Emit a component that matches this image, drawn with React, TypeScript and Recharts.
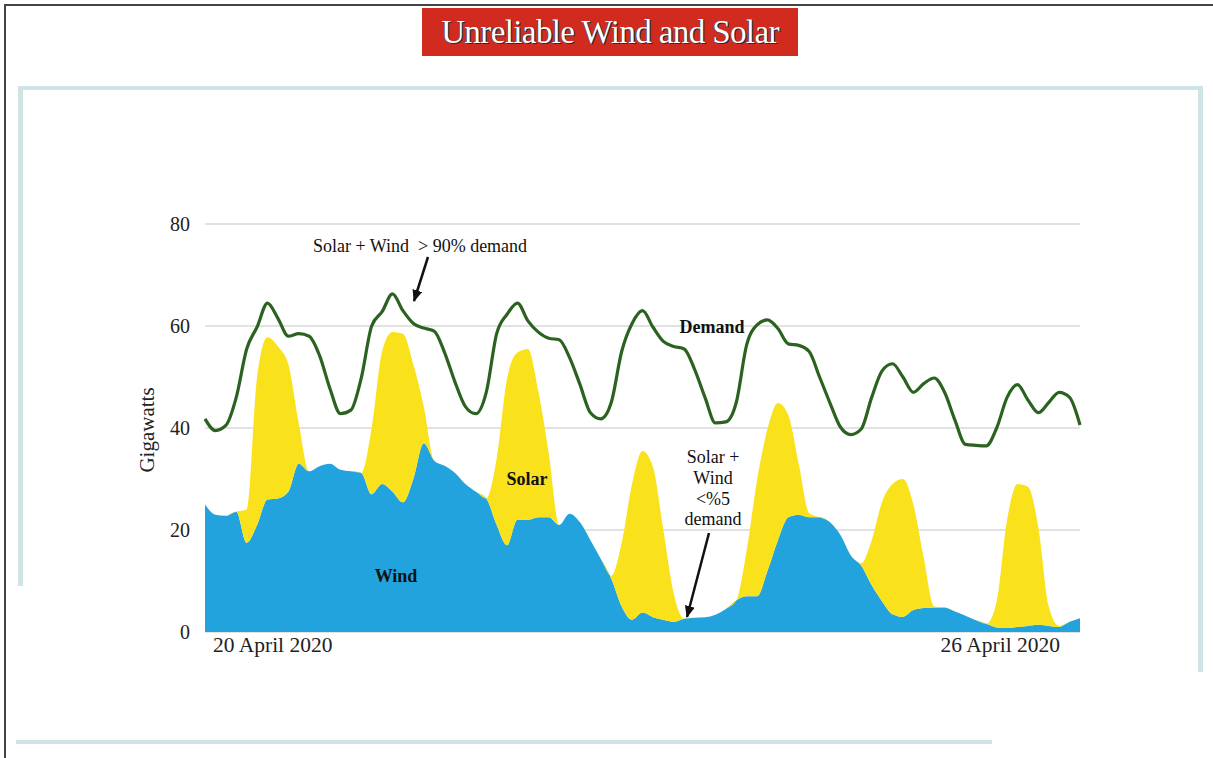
import React from "react";
import { ComposedChart, Area, Line, XAxis, YAxis, CartesianGrid } from "recharts";

// hours since 00:00 on 20 April 2020, two-hourly
const HOURS = [
  0, 2, 4, 6, 8, 10, 12, 14, 16, 18, 20, 22, 24, 26, 28, 30, 32, 34, 36, 38,
  40, 42, 44, 46, 48, 50, 52, 54, 56, 58, 60, 62, 64, 66, 68, 70, 72, 74, 76, 78,
  80, 82, 84, 86, 88, 90, 92, 94, 96, 98, 100, 102, 104, 106, 108, 110, 112, 114, 116, 118,
  120, 122, 124, 126, 128, 130, 132, 134, 136, 138, 140, 142, 144, 146, 148, 150, 152, 154, 156, 158,
  160, 162, 164, 166, 168,
];

// GW
const WIND = [
  25, 23, 22.8, 23.6, 17.5, 21, 26, 26.2, 27.5, 33,
  31.5, 32.5, 33, 31.8, 31.5, 31.2, 27, 29, 27.5, 25.4,
  30, 37, 33.6, 32.6, 31.2, 29, 27.5, 26.2, 21, 17,
  22, 22, 22.5, 22.5, 21, 23.2, 21.5, 18, 14.3, 10.5,
  5, 2.4, 3.8, 2.9, 2.4, 2, 2.6, 2.8, 2.9, 3.4,
  4.5, 6.2, 7, 7, 12, 18, 22.5, 23, 22.5, 22.5,
  21.5, 19, 15, 13, 9.2, 6, 3.5, 3, 4.3, 4.7,
  4.8, 4.8, 4, 3.2, 2.3, 1.6, 0.9, 0.8, 1, 1.2,
  1.4, 1.2, 1, 2, 2.7,
];

const SOLAR = [
  0, 0, 0, 0, 6.5, 29, 31.8, 29.8, 25, 8,
  0, 0, 0, 0, 0, 0, 13, 26, 31.3, 33.1,
  22.5, 7.2, 0, 0, 0, 0, 0, 0, 13, 32.7,
  32.8, 33.5, 24.7, 12.5, 0, 0, 0, 0, 0, 0.5,
  12.5, 26.6, 31.7, 29.5, 17.6, 5.5, 0, 0, 0, 0,
  0, 0, 9, 22.8, 27.8, 26.9, 20, 10, 0.8, 0,
  0, 0, 0, 0.5, 8.8, 19.5, 25.5, 27, 20.7, 9.8,
  0.2, 0, 0, 0, 0, 0, 5.1, 21.2, 28, 27.3,
  19.1, 3.8, 0.2, 0, 0,
];

const DEMAND = [
  41.8, 39.5, 40.5, 46, 55.5, 59.8, 64.5, 61.5, 58, 58.5,
  58, 54.2, 47.7, 42.8, 43.5, 49.8, 60, 62.8, 66.3, 63,
  60.5, 59.6, 59, 54.8, 49, 44.2, 42.8, 47, 58.5, 62.3,
  64.5, 61, 58.8, 57.6, 57.3, 53.8, 48.5, 43, 41.8, 45,
  55, 60.5, 63, 59.8, 57, 56, 55.5, 51.5, 46, 41,
  41.2, 45, 56.3, 60.2, 61.2, 59.5, 56.5, 56.2, 55, 50,
  44.9, 40.2, 38.7, 39.8, 46, 51.2, 52.6, 50, 47, 48.7,
  49.8, 47, 41.5, 36.8, 36.6, 36.5, 40, 46, 48.5, 45.5,
  43, 45, 47, 46, 40.6,
];

const Y_TICKS = [0, 20, 40, 60, 80];
const X_TICKS = [0, 168];
const X_LABELS = ["20 April 2020", "26 April 2020"];

const SERIF = "'Liberation Serif', 'Times New Roman', serif";

const data = HOURS.map((h, i) => ({
  hour: h,
  wind: WIND[i],
  solar: SOLAR[i],
  demand: DEMAND[i],
}));

const DateTick = ({ x, y, payload }: { x?: number; y?: number; payload?: { value: number } }) => {
  const first = payload?.value === X_TICKS[0];
  return (
    <text
      x={first ? (x ?? 0) + 8 : (x ?? 0) - 20}
      y={(y ?? 0) + 12}
      textAnchor={first ? "start" : "end"}
      fontFamily={SERIF}
      fontSize={21.5}
      fill="#222"
    >
      {first ? X_LABELS[0] : X_LABELS[1]}
    </text>
  );
};

const frame = "#cfe5e5";

export default function App() {
  return (
    <div style={{ position: "absolute", left: 0, top: 0, width: 1213, height: 758, background: "#fff", overflow: "hidden" }}>
      {/* outer border (top + left) */}
      <div style={{ position: "absolute", left: 4, top: 4, width: 1209, height: 754, borderTop: "2px solid #444", borderLeft: "2px solid #444" }} />
      {/* light blue frame pieces */}
      <div style={{ position: "absolute", left: 18, top: 86, width: 1184, height: 4, background: frame }} />
      <div style={{ position: "absolute", left: 18, top: 86, width: 5, height: 500, background: frame }} />
      <div style={{ position: "absolute", left: 1198, top: 86, width: 5, height: 586, background: frame }} />
      <div style={{ position: "absolute", left: 16, top: 740, width: 976, height: 4, background: frame }} />

      {/* title */}
      <div
        style={{
          position: "absolute",
          left: 422,
          top: 8,
          width: 376,
          height: 48,
          background: "#d12a1f",
          color: "#fff",
          fontFamily: SERIF,
          fontSize: 33,
          lineHeight: "48px",
          textAlign: "center",
          letterSpacing: -0.6,
          textShadow: "1px 1px 0 #2b2b3a, -1px 0 0 #5a3a3a",
        }}
      >
        Unreliable Wind and Solar
      </div>

      <div style={{ position: "absolute", left: 0, top: 0 }}>
        <ComposedChart
          width={1213}
          height={758}
          data={data}
          margin={{ top: 224, right: 133, bottom: 96, left: 145 }}
        >
          <CartesianGrid vertical={false} stroke="#d9d9d9" strokeWidth={1.5} />
          <XAxis
            dataKey="hour"
            type="number"
            domain={[0, 168]}
            ticks={X_TICKS}
            height={30}
            axisLine={false}
            tickLine={false}
            tick={<DateTick />}
          />
          <YAxis
            domain={[0, 80]}
            ticks={Y_TICKS}
            width={60}
            axisLine={false}
            tickLine={false}
            tickMargin={9}
            tick={{ fontSize: 20, fill: "#222", fontFamily: SERIF }}
          />
          <Area
            type="monotone"
            dataKey="wind"
            stackId="gen"
            stroke="none"
            fill="#22a3dd"
            fillOpacity={1}
            isAnimationActive={false}
          />
          <Area
            type="monotone"
            dataKey="solar"
            stackId="gen"
            stroke="none"
            fill="#f9e11c"
            fillOpacity={1}
            isAnimationActive={false}
          />
          <Line
            type="monotone"
            dataKey="demand"
            stroke="#2b6220"
            strokeWidth={3.2}
            dot={false}
            isAnimationActive={false}
          />
        </ComposedChart>
      </div>

      {/* annotations */}
      <svg
        width={1213}
        height={758}
        style={{ position: "absolute", left: 0, top: 0, pointerEvents: "none" }}
        fontFamily={SERIF}
      >
        <defs>
          <marker id="arrow" markerWidth={12} markerHeight={10} refX={11} refY={5} orient="auto" markerUnits="userSpaceOnUse">
            <path d="M0,0 L12,5 L0,10 z" fill="#111" />
          </marker>
        </defs>
        <text x={147} y={430} transform="rotate(-90 147 430)" textAnchor="middle" dominantBaseline="central" fontSize={21} fill="#222">
          Gigawatts
        </text>
        <text x={420} y={252} textAnchor="middle" fontSize={18} fill="#111" style={{ whiteSpace: "pre" }}>
          {"Solar + Wind  > 90% demand"}
        </text>
        <line x1={428} y1={257} x2={414} y2={301} stroke="#111" strokeWidth={2.5} markerEnd="url(#arrow)" />
        <text x={712} y={333} textAnchor="middle" fontSize={18} fontWeight="bold" fill="#111">Demand</text>
        <text x={527} y={485} textAnchor="middle" fontSize={18} fontWeight="bold" fill="#111">Solar</text>
        <text x={396} y={582} textAnchor="middle" fontSize={18} fontWeight="bold" fill="#111">Wind</text>
        <text textAnchor="middle" fontSize={18} fill="#111">
          <tspan x={713} y={463}>Solar +</tspan>
          <tspan x={713} y={484}>Wind</tspan>
          <tspan x={713} y={505}>{"<%5"}</tspan>
          <tspan x={713} y={525}>demand</tspan>
        </text>
        <line x1={709} y1={533} x2={687} y2={617} stroke="#111" strokeWidth={2.5} markerEnd="url(#arrow)" />
      </svg>
    </div>
  );
}
